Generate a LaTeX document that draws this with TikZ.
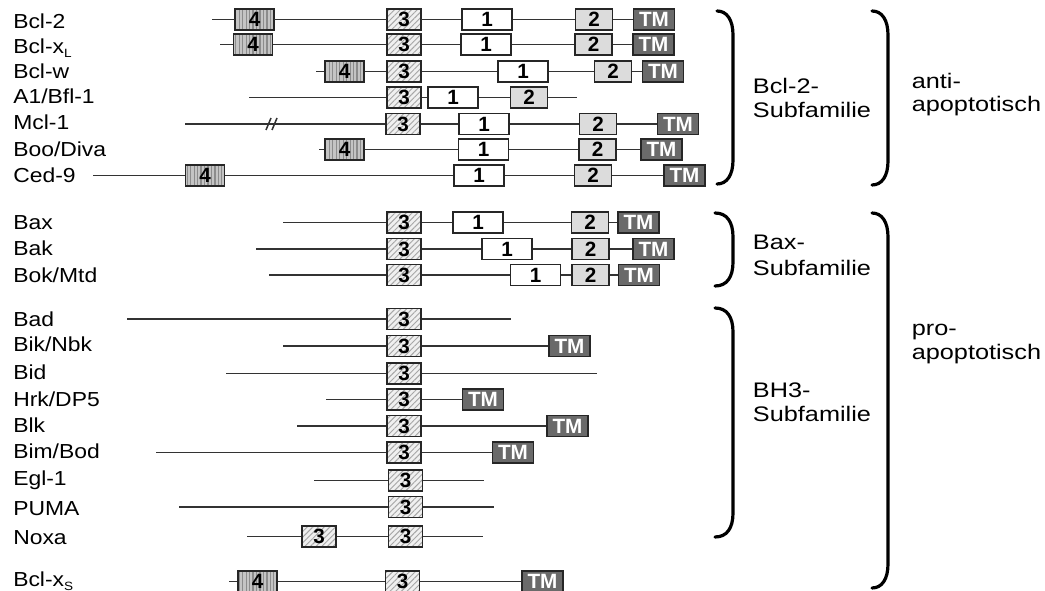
\documentclass[tikz,border=0pt]{standalone}
\usepackage{graphicx}
\usepackage{fontspec}
\setmainfont{Liberation Sans}
\usetikzlibrary{patterns.meta}
\definecolor{tmgray}{HTML}{6A6A6A}
\definecolor{btwo}{HTML}{DCDCDC}
\definecolor{bfour}{HTML}{C4C4C4}
\newcommand\hs[1]{\scalebox{1.13}[1]{#1}}
\newcommand\rs[1]{\scalebox{1.2}[1]{#1}}
\newcommand\subsc[1]{\raisebox{-3pt}{\fontsize{9}{9}\selectfont #1}}
\newcommand\mybrace[4]{\draw[brc] (#1,#3) .. controls (#2-6,#3) and (#2,#3+9) .. (#2,#3+24) -- (#2,#4-24) .. controls (#2,#4-9) and (#2-6,#4) .. (#1,#4);}
\begin{document}
\begin{tikzpicture}[x=0.75pt,y=-0.75pt,
  lbl/.style={anchor=base west,inner sep=0pt,font=\fontsize{15.2}{17}\selectfont},
  rlbl/.style={anchor=base west,inner sep=0pt,font=\fontsize{15.8}{18}\selectfont},
  bx/.style={draw=black!85,line width=1.05pt,inner sep=0pt,minimum height=15.8pt,font=\fontsize{15.5}{15.5}\selectfont\bfseries},
  dfour/.style={bx,minimum width=29pt,preaction={fill=bfour},pattern={Lines[angle=90,distance=2.6pt,line width=0.9pt]},pattern color=black!45},
  dthree/.style={bx,minimum width=25.5pt,preaction={fill=black!6},pattern={Lines[angle=45,distance=3pt,line width=0.7pt]},pattern color=black!35},
  done/.style={bx,minimum width=37.5pt,fill=white},
  dtwo/.style={bx,minimum width=27.75pt,fill=btwo},
  tm/.style={bx,minimum width=30.75pt,fill=tmgray,text=white},
  ln/.style={draw=black!80,line width=1.15pt},
  brc/.style={draw=black,line width=2.4pt,line cap=round}]
\useasboundingbox (0,0) rectangle (1045,591);

% ---------- labels ----------
\node[lbl] (l1) at (13,28.3) {\hs{Bcl-2}};
\node[lbl] (l2) at (13,53.3) {\hs{Bcl-x\subsc{L}}};
\node[lbl] (l3) at (13,79) {\hs{Bcl-w}};
\node[lbl] (l4) at (13,103.3) {\hs{A1/Bfl-1}};
\node[lbl] (l5) at (13,130) {\hs{Mcl-1}};
\node[lbl] (l6) at (13,156.7) {\hs{Boo/Diva}};
\node[lbl] (l7) at (13,182.3) {\hs{Ced-9}};
\node[lbl] (l8) at (13,230) {\hs{Bax}};
\node[lbl] (l9) at (13,256) {\hs{Bak}};
\node[lbl] (l10) at (13,282.7) {\hs{Bok/Mtd}};
\node[lbl] (l11) at (13,326.7) {\hs{Bad}};
\node[lbl] (l12) at (13,351.7) {\hs{Bik/Nbk}};
\node[lbl] (l13) at (13,379.3) {\hs{Bid}};
\node[lbl] (l14) at (13,406) {\hs{Hrk/DP5}};
\node[lbl] (l15) at (13,432.3) {\hs{Blk}};
\node[lbl] (l16) at (13,458.3) {\hs{Bim/Bod}};
\node[lbl] (l17) at (13,485) {\hs{Egl-1}};
\node[lbl] (l18) at (13,515) {\hs{PUMA}};
\node[lbl] (l19) at (13,544) {\hs{Noxa}};
\node[lbl] (l20) at (13,586) {\hs{Bcl-x\subsc{S}}};

% ---------- row 1: Bcl-2 ----------
\coordinate (s1) at (212,19.5);
\node[dfour] (a1) at (254.5,19.5) {4};
\node[dthree] (c1) at (404,19.5) {3};
\node[done] (o1) at (487,19.5) {1};
\node[dtwo] (t1) at (594,19.5) {2};
\node[tm] (m1) at (654,19.5) {TM};
\draw[ln] (s1) -- (a1) -- (c1) -- (o1) -- (t1) -- (m1);
% ---------- row 2: Bcl-xL ----------
\coordinate (s2) at (220,44.5);
\node[dfour] (a2) at (253,44.5) {4};
\node[dthree] (c2) at (404,44.5) {3};
\node[done] (o2) at (486,44.5) {1};
\node[dtwo] (t2) at (593.5,44.5) {2};
\node[tm] (m2) at (653.5,44.5) {TM};
\draw[ln] (s2) -- (a2) -- (c2) -- (o2) -- (t2) -- (m2);
% ---------- row 3: Bcl-w ----------
\coordinate (s3) at (316,71.5);
\node[dfour] (a3) at (344.5,71.5) {4};
\node[dthree] (c3) at (404,71.5) {3};
\node[done] (o3) at (523,71.5) {1};
\node[dtwo] (t3) at (613,71.5) {2};
\node[tm] (m3) at (663,71.5) {TM};
\draw[ln] (s3) -- (a3) -- (c3) -- (o3) -- (t3) -- (m3);
% ---------- row 4: A1/Bfl-1 ----------
\coordinate (s4) at (249,97.5);
\node[dthree] (c4) at (404,97.5) {3};
\node[done] (o4) at (453,97.5) {1};
\node[dtwo] (t4) at (529,97.5) {2};
\coordinate (e4) at (577,97.5);
\draw[ln] (s4) -- (c4) -- (o4) -- (t4) -- (e4);
% ---------- row 5: Mcl-1 ----------
\coordinate (s5) at (185,124);
\node[dthree] (c5) at (403,124) {3};
\node[done] (o5) at (484,124) {1};
\node[dtwo] (t5) at (598,124) {2};
\node[tm] (m5) at (678,124) {TM};
\draw[ln] (s5) -- (c5) -- (o5) -- (t5) -- (m5);
\coordinate (k5) at (273,124);
\draw[ln] ([shift={(-7,6)}]k5) -- ([shift={(-2,-6)}]k5);
\draw[ln] ([shift={(-1,6)}]k5) -- ([shift={(4,-6)}]k5);
% ---------- row 6: Boo/Diva ----------
\coordinate (s6) at (319,149.5);
\node[dfour] (a6) at (344.5,149.5) {4};
\node[done] (o6) at (483.5,149.5) {1};
\node[dtwo] (t6) at (597.5,149.5) {2};
\node[tm] (m6) at (661.5,149.5) {TM};
\draw[ln] (s6) -- (a6) -- (o6) -- (t6) -- (m6);
% ---------- row 7: Ced-9 ----------
\coordinate (s7) at (93,175.5);
\node[dfour] (a7) at (205,175.5) {4};
\node[done] (o7) at (479,175.5) {1};
\node[dtwo] (t7) at (593,175.5) {2};
\node[tm] (m7) at (684.5,175.5) {TM};
\draw[ln] (s7) -- (a7) -- (o7) -- (t7) -- (m7);
% ---------- row 8: Bax ----------
\coordinate (s8) at (283,222.5);
\node[dthree] (c8) at (404,222.5) {3};
\node[done] (o8) at (478,222.5) {1};
\node[dtwo] (t8) at (590,222.5) {2};
\node[tm] (m8) at (638.5,222.5) {TM};
\draw[ln] (s8) -- (c8) -- (o8) -- (t8) -- (m8);
% ---------- row 9: Bak ----------
\coordinate (s9) at (256,249);
\node[dthree] (c9) at (404,249) {3};
\node[done] (o9) at (507,249) {1};
\node[dtwo] (t9) at (590.5,249) {2};
\node[tm] (m9) at (653.5,249) {TM};
\draw[ln] (s9) -- (c9) -- (o9) -- (t9) -- (m9);
% ---------- row 10: Bok/Mtd ----------
\coordinate (s10) at (269,275);
\node[dthree] (c10) at (404,275) {3};
\node[done] (o10) at (535.5,275) {1};
\node[dtwo] (t10) at (590.5,275) {2};
\node[tm] (m10) at (639,275) {TM};
\draw[ln] (s10) -- (c10) -- (o10) -- (t10) -- (m10);
% ---------- row 11: Bad ----------
\coordinate (s11) at (127,319);
\node[dthree] (c11) at (404,319) {3};
\coordinate (e11) at (511,319);
\draw[ln] (s11) -- (c11) -- (e11);
% ---------- row 12: Bik/Nbk ----------
\coordinate (s12) at (283,346);
\node[dthree] (c12) at (404,346) {3};
\node[tm] (m12) at (569.5,346) {TM};
\draw[ln] (s12) -- (c12) -- (m12);
% ---------- row 13: Bid ----------
\coordinate (s13) at (226,373.5);
\node[dthree] (c13) at (404,373.5) {3};
\coordinate (e13) at (597,373.5);
\draw[ln] (s13) -- (c13) -- (e13);
% ---------- row 14: Hrk/DP5 ----------
\coordinate (s14) at (326,399.5);
\node[dthree] (c14) at (404,399.5) {3};
\node[tm] (m14) at (483,399.5) {TM};
\draw[ln] (s14) -- (c14) -- (m14);
% ---------- row 15: Blk ----------
\coordinate (s15) at (297,426);
\node[dthree] (c15) at (404,426) {3};
\node[tm] (m15) at (567.5,426) {TM};
\draw[ln] (s15) -- (c15) -- (m15);
% ---------- row 16: Bim/Bod ----------
\coordinate (s16) at (156,452.5);
\node[dthree] (c16) at (404,452.5) {3};
\node[tm] (m16) at (513,452.5) {TM};
\draw[ln] (s16) -- (c16) -- (m16);
% ---------- row 17: Egl-1 ----------
\coordinate (s17) at (314,480.5);
\node[dthree] (c17) at (405.5,480.5) {3};
\coordinate (e17) at (484,480.5);
\draw[ln] (s17) -- (c17) -- (e17);
% ---------- row 18: PUMA ----------
\coordinate (s18) at (179,507);
\node[dthree] (c18) at (405.5,507) {3};
\coordinate (e18) at (494,507);
\draw[ln] (s18) -- (c18) -- (e18);
% ---------- row 19: Noxa ----------
\coordinate (s19) at (247,536.5);
\node[dthree] (d19) at (319,536.5) {3};
\node[dthree] (c19) at (405.5,536.5) {3};
\coordinate (e19) at (483,536.5);
\draw[ln] (s19) -- (d19) -- (c19) -- (e19);
% ---------- row 20: Bcl-xS ----------
\coordinate (s20) at (229,581.5);
\node[dfour] (a20) at (257.5,581.5) {4};
\node[dthree] (c20) at (402.5,581.5) {3};
\node[tm] (m20) at (542.5,581.5) {TM};
\draw[ln] (s20) -- (a20) -- (c20) -- (m20);

% ---------- braces ----------
\mybrace{717}{733}{11}{184}
\mybrace{872}{888}{11}{185}
\mybrace{715}{733}{213}{286}
\mybrace{715}{733}{308}{537}
\mybrace{872}{888}{213}{588}

% ---------- group labels ----------
\node[rlbl] (g1a) at (752.7,93.3) {\rs{Bcl-2-}};
\node[rlbl] (g1b) at (752.7,117.3) {\rs{Subfamilie}};
\node[rlbl] (g2a) at (911.5,88.3) {\rs{anti-}};
\node[rlbl] (g2b) at (911.5,111.7) {\rs{apoptotisch}};
\node[rlbl] (g3a) at (752.7,250) {\rs{Bax-}};
\node[rlbl] (g3b) at (752.7,275.7) {\rs{Subfamilie}};
\node[rlbl] (g4a) at (752.7,397.3) {\rs{BH3-}};
\node[rlbl] (g4b) at (752.7,421.7) {\rs{Subfamilie}};
\node[rlbl] (g5a) at (911.5,335) {\rs{pro-}};
\node[rlbl] (g5b) at (911.5,359.3) {\rs{apoptotisch}};
\end{tikzpicture}
\end{document}
